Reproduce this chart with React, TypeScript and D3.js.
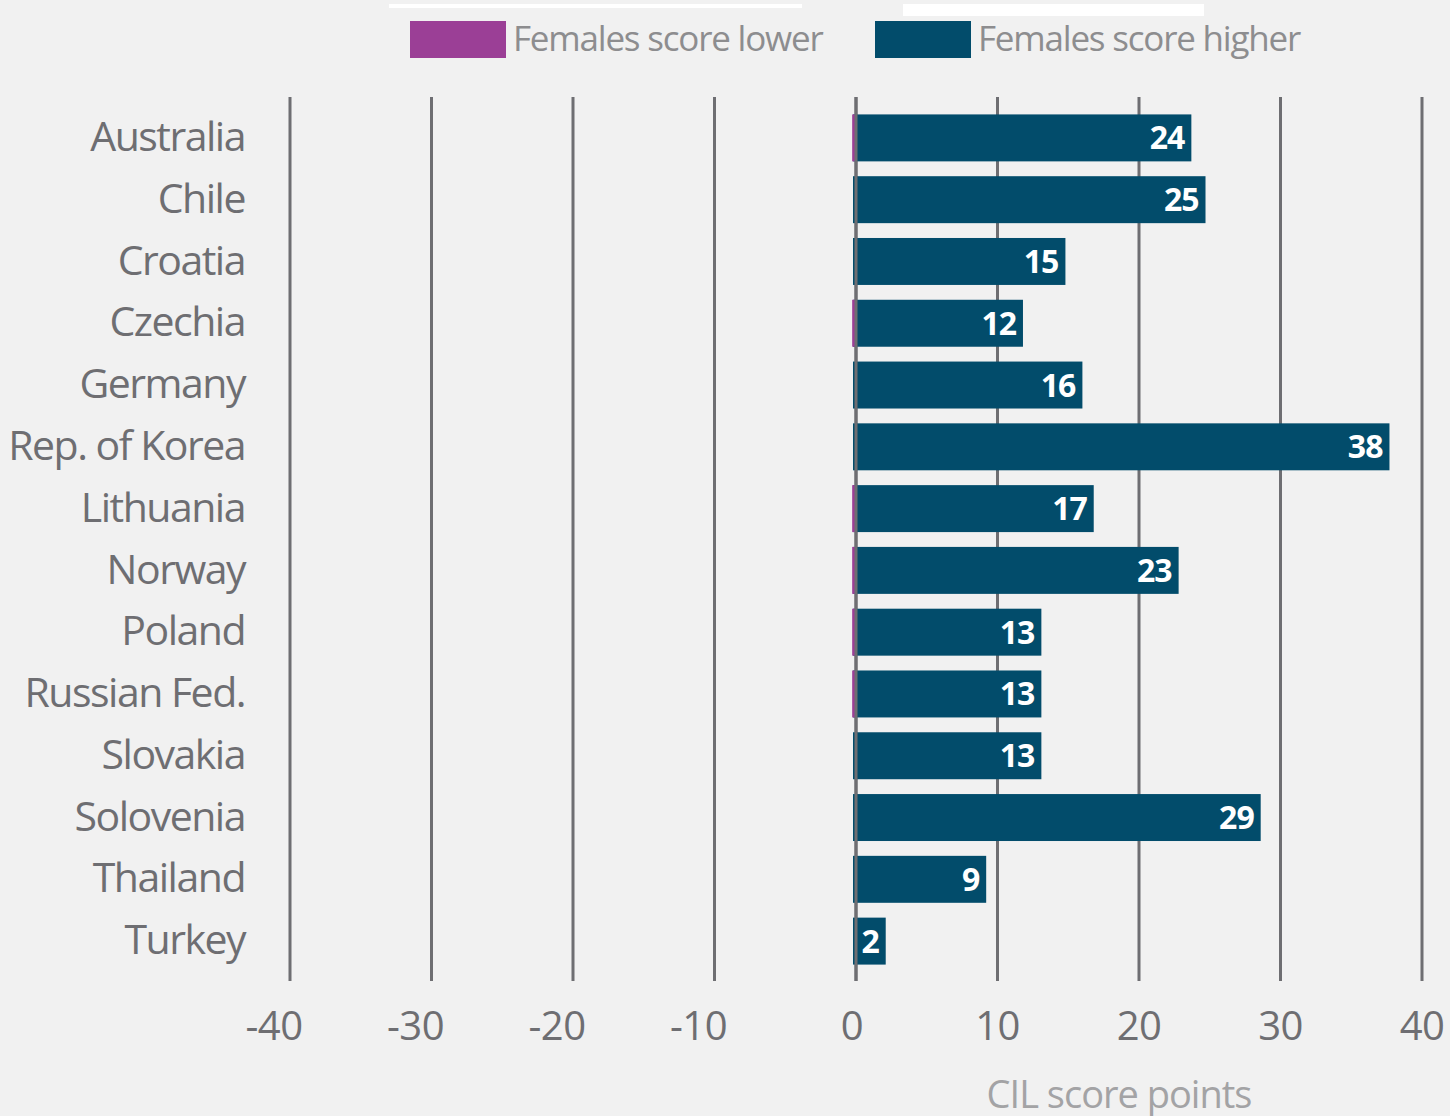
import React, { useEffect, useRef } from 'react';
import * as d3 from 'd3';

const countries = ['Australia', 'Chile', 'Croatia', 'Czechia', 'Germany', 'Rep. of Korea', 'Lithuania',
  'Norway', 'Poland', 'Russian Fed.', 'Slovakia', 'Solovenia', 'Thailand', 'Turkey'];
const higher = [23.7, 24.7, 14.8, 11.8, 16.0, 37.7, 16.8, 22.8, 13.1, 13.1, 13.1, 28.6, 9.2, 2.1];
const lower = [-0.2, 0, 0, -0.2, 0, 0, -0.2, -0.2, -0.2, -0.2, 0, 0, 0, 0];
const ticks = [-40, -30, -20, -10, 0, 10, 20, 30, 40];
const legendItems = ['Females score lower', 'Females score higher'];

const W = 1450;
const H = 1116;
const BLUE = '#024c6b';
const PURPLE = '#9b3f96';
const GRID = '#6e6e72';
const FONT = '"Open Sans", sans-serif';

function App() {
  const ref = useRef<SVGSVGElement>(null);

  useEffect(() => {
    const svg = d3.select(ref.current);
    svg.selectAll('*').remove();

    svg.append('rect').attr('width', W).attr('height', H).attr('fill', '#f1f1f1');

    const x = d3.scaleLinear().domain([-40, 40]).range([290, 1422]);
    const y = d3.scaleBand<string>()
      .domain(countries)
      .range([107, 972])
      .paddingInner(0.24)
      .paddingOuter(0.12);

    // white strips above legend
    svg.append('rect').attr('x', 389).attr('y', 4).attr('width', 413).attr('height', 4).attr('fill', '#fff');
    svg.append('rect').attr('x', 903).attr('y', 4).attr('width', 301).attr('height', 12).attr('fill', '#fff');

    // legend
    const legend = svg.append('g');
    const legendX = [410, 875];
    [PURPLE, BLUE].forEach((c, i) => {
      legend.append('rect')
        .attr('x', legendX[i]).attr('y', 21).attr('width', 96).attr('height', 37)
        .attr('fill', c);
      legend.append('text')
        .attr('x', legendX[i] + 103).attr('y', 51)
        .attr('font-family', FONT).attr('font-size', 35).attr('letter-spacing', -1.2)
        .attr('fill', '#8d8d8f')
        .text(legendItems[i]);
    });

    // gridlines
    svg.append('g')
      .selectAll('line')
      .data(ticks)
      .join('line')
        .attr('x1', d => x(d)).attr('x2', d => x(d))
        .attr('y1', 97).attr('y2', 981)
        .attr('stroke', GRID).attr('stroke-width', 3);

    // tick labels
    svg.append('g')
      .selectAll('text')
      .data(ticks)
      .join('text')
        .attr('x', d => x(d) - (d < 0 ? 16 : d === 0 ? 4 : 0))
        .attr('y', 1040)
        .attr('text-anchor', 'middle')
        .attr('font-family', FONT).attr('font-size', 40).attr('letter-spacing', -0.5)
        .attr('fill', '#6e6e72')
        .text(d => d < 0 ? '-' + Math.abs(d) : String(d));

    // axis title
    svg.append('text')
      .attr('x', 1119).attr('y', 1108)
      .attr('text-anchor', 'middle')
      .attr('font-family', FONT).attr('font-size', 38).attr('letter-spacing', -1)
      .attr('fill', '#a3a3a5')
      .text('CIL score points');

    // bars
    const bars = svg.append('g');
    bars.selectAll('rect.hi')
      .data(countries)
      .join('rect')
        .attr('class', 'hi')
        .attr('x', x(0) - 3)
        .attr('y', d => y(d)!)
        .attr('width', (d, i) => x(higher[i]) - x(0) + 3)
        .attr('height', y.bandwidth())
        .attr('fill', BLUE);

    bars.selectAll('rect.lo')
      .data(countries)
      .join('rect')
        .attr('class', 'lo')
        .attr('x', (d, i) => x(lower[i]) - 1)
        .attr('y', d => y(d)!)
        .attr('width', (d, i) => lower[i] < 0 ? x(0) - x(lower[i]) + 1 : 0)
        .attr('height', y.bandwidth())
        .attr('fill', PURPLE);

    // zero line on top
    svg.append('line')
      .attr('x1', x(0)).attr('x2', x(0)).attr('y1', 97).attr('y2', 981)
      .attr('stroke', GRID).attr('stroke-width', 3);

    // value labels
    svg.append('g')
      .selectAll('text')
      .data(countries)
      .join('text')
        .attr('x', (d, i) => x(higher[i]) - 7)
        .attr('y', d => y(d)! + y.bandwidth() / 2)
        .attr('dy', '0.36em')
        .attr('text-anchor', 'end')
        .attr('font-family', FONT).attr('font-size', 32).attr('font-weight', 700)
        .attr('letter-spacing', -1)
        .attr('fill', '#fff')
        .text((d, i) => String(Math.round(higher[i])));

    // country labels
    svg.append('g')
      .selectAll('text')
      .data(countries)
      .join('text')
        .attr('x', 245)
        .attr('y', d => y(d)! + y.bandwidth() / 2)
        .attr('dy', '0.32em')
        .attr('text-anchor', 'end')
        .attr('font-family', FONT).attr('font-size', 41).attr('letter-spacing', -1.5)
        .attr('fill', '#6e6e72')
        .text(d => d);
  }, []);

  return (
    <svg ref={ref} width={W} height={H} style={{ position: 'absolute', left: 0, top: 0 }} />
  );
}

export default App;
